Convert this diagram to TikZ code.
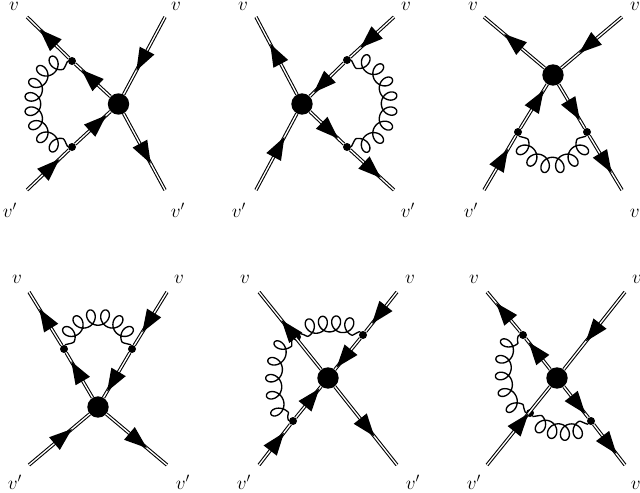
\documentclass[tikz,border=0pt]{standalone}
\usetikzlibrary{decorations.markings}
\pgfdeclaredecoration{curly}{s}{
  \state{s}[width=0.25pt]{
    \pgfmathsetmacro{\gd}{\pgfdecoratedcompleteddistance}
    \pgfmathsetmacro{\gl}{\pgfdecoratedpathlength}
    \pgfmathsetmacro{\gu}{(\gd-5)/(\gl-10)}
    \pgfmathsetmacro{\gph}{360*\gn*max(0,min(1,\gu))}
    \pgfmathsetmacro{\gt}{min(1,min(\gd,\gl-\gd)/5)}
    \pgfmathsetmacro{\gamp}{ifthenelse(\gt<1,-sin(90*\gt),-cos(\gph))}
    \pgfpathlineto{\pgfpoint{5.6pt*sin(\gph)}{\gs*6pt*\gamp}}
  }
  \state{final}{\pgfpathlineto{\pgfpointdecoratedpathlast}}
}
\tikzset{
  dbl/.style={draw=black,double=white,line width=0.8pt,double distance=1.0pt},
  ar/.style={postaction={decorate,decoration={markings,mark=at position #1 with {\fill[black] (8.75pt,0pt)--(-8.25pt,6.25pt)--(-8.25pt,-6.25pt)--cycle;}}}},
  blob/.style={circle,fill=black,inner sep=0pt,minimum size=16pt},
  vtx/.style={circle,fill=black,inner sep=0pt,minimum size=6pt},
  lab/.style={inner sep=0pt,font=\fontsize{14}{14}\selectfont},
  glu/.style 2 args={draw=black,line width=1pt,line join=round,/utils/exec={\def\gn{#1}\def\gs{#2}},decorate,decoration={curly}}
}
\begin{document}
\begin{tikzpicture}[x=0.75pt,y=-0.75pt]
\useasboundingbox (0,0) rectangle (640,493);
\clip (0,0) rectangle (640,493);
% diagram 1
\node[blob] (c1) at (118.5,104) {};
\node[vtx] (p1) at (72,61) {};
\node[vtx] (q1) at (72,147) {};
\coordinate (tl1) at (27,17); \coordinate (tr1) at (165,17);
\coordinate (bl1) at (27,190); \coordinate (br1) at (165,190);
\draw[dbl,ar=.5] (p1)--(tl1);
\draw[dbl,ar=.58] (c1)--(p1);
\draw[dbl,ar=.57] (bl1)--(q1);
\draw[dbl,ar=.64] (q1)--(c1);
\draw[dbl,ar=.56] (tr1)--(c1);
\draw[dbl,ar=.52] (c1)--(br1);
\draw[glu={8}{-1}] (p1) .. controls (21,61) and (21,147) .. (q1);
\node[lab] (l1a) at (14,6) {$v$};
\node[lab] (l1b) at (176,6) {$v$};
\node[lab] (l1c) at (10,210) {$v'$};
\node[lab] (l1d) at (178,210) {$v'$};
% diagram 2
\node[blob] (c2) at (302,104) {};
\node[vtx] (p2) at (347,60) {};
\node[vtx] (q2) at (347,147) {};
\coordinate (tl2) at (256,17); \coordinate (tr2) at (394,17);
\coordinate (bl2) at (256,190); \coordinate (br2) at (394,190);
\draw[dbl,ar=.52] (c2)--(tl2);
\draw[dbl,ar=.56] (bl2)--(c2);
\draw[dbl,ar=.57] (tr2)--(p2);
\draw[dbl,ar=.64] (p2)--(c2);
\draw[dbl,ar=.58] (c2)--(q2);
\draw[dbl,ar=.5] (q2)--(br2);
\draw[glu={8}{1}] (p2) .. controls (402,60) and (402,147) .. (q2);
\node[lab] (l2a) at (243,6) {$v$};
\node[lab] (l2b) at (406,6) {$v$};
\node[lab] (l2c) at (239,210) {$v'$};
\node[lab] (l2d) at (408,210) {$v'$};
% diagram 3
\node[blob] (c3) at (553,75) {};
\node[vtx] (p3) at (518,132) {};
\node[vtx] (q3) at (587,132) {};
\coordinate (tl3) at (484,17); \coordinate (tr3) at (622,17);
\coordinate (bl3) at (484,190); \coordinate (br3) at (622,190);
\draw[dbl,ar=.52] (c3)--(tl3);
\draw[dbl,ar=.56] (tr3)--(c3);
\draw[dbl,ar=.57] (bl3)--(p3);
\draw[dbl,ar=.64] (p3)--(c3);
\draw[dbl,ar=.58] (c3)--(q3);
\draw[dbl,ar=.5] (q3)--(br3);
\draw[glu={6}{-1}] (p3) .. controls (527,175) and (578,175) .. (q3);
\node[lab] (l3a) at (473,6) {$v$};
\node[lab] (l3b) at (635,6) {$v$};
\node[lab] (l3c) at (471,210) {$v'$};
\node[lab] (l3d) at (637,210) {$v'$};
% diagram 4
\node[blob] (c4) at (98,407) {};
\node[vtx] (p4) at (64,349) {};
\node[vtx] (q4) at (132,349) {};
\coordinate (tl4) at (29,292); \coordinate (tr4) at (167,292);
\coordinate (bl4) at (29,465); \coordinate (br4) at (167,465);
\draw[dbl,ar=.5] (p4)--(tl4);
\draw[dbl,ar=.58] (c4)--(p4);
\draw[dbl,ar=.57] (tr4)--(q4);
\draw[dbl,ar=.64] (q4)--(c4);
\draw[dbl,ar=.56] (bl4)--(c4);
\draw[dbl,ar=.52] (c4)--(br4);
\draw[glu={6}{1}] (p4) .. controls (73,308) and (123,308) .. (q4);
\node[lab] (l4a) at (17,279) {$v$};
\node[lab] (l4b) at (179,279) {$v$};
\node[lab] (l4c) at (15,482) {$v'$};
\node[lab] (l4d) at (183,482) {$v'$};
% diagram 5
\node[blob] (c5) at (328,378) {};
\node[vtx] (p5) at (297,337) {};
\node[vtx] (q5) at (363,335) {};
\node[vtx] (r5) at (293,421) {};
\coordinate (tl5) at (259,292); \coordinate (tr5) at (397,292);
\coordinate (bl5) at (259,465); \coordinate (br5) at (397,465);
\draw[dbl,ar=.52] (c5)--(tl5);
\draw[dbl,ar=.52] (c5)--(br5);
\draw[dbl,ar=.57] (tr5)--(q5);
\draw[dbl,ar=.64] (q5)--(c5);
\draw[dbl,ar=.57] (bl5)--(r5);
\draw[dbl,ar=.64] (r5)--(c5);
\draw[glu={4}{1}] (p5) .. controls (308,321) and (352,321) .. (q5);
\draw[glu={5}{-1}] (p5) .. controls (268,340) and (268,420) .. (r5);
\node[lab] (l5a) at (245,279) {$v$};
\node[lab] (l5b) at (410,279) {$v$};
\node[lab] (l5c) at (244,482) {$v'$};
\node[lab] (l5d) at (413,482) {$v'$};
% diagram 6
\node[blob] (c6) at (557,378) {};
\node[vtx] (p6) at (523,335) {};
\node[vtx] (q6) at (591,421) {};
\node[vtx] (r6) at (530,413) {};
\coordinate (tl6) at (487,292); \coordinate (tr6) at (625,292);
\coordinate (bl6) at (487,465); \coordinate (br6) at (625,465);
\draw[dbl,ar=.5] (p6)--(tl6);
\draw[dbl,ar=.58] (c6)--(p6);
\draw[dbl,ar=.52] (tr6)--(c6);
\draw[dbl,ar=.54] (bl6)--(c6);
\draw[dbl,ar=.58] (c6)--(q6);
\draw[dbl,ar=.5] (q6)--(br6);
\draw[glu={5}{-1}] (p6) .. controls (497,335) and (497,413) .. (r6);
\draw[glu={4}{-1}] (r6) .. controls (545,436) and (578,436) .. (q6);
\node[lab] (l6a) at (474,279) {$v$};
\node[lab] (l6b) at (637,279) {$v$};
\node[lab] (l6c) at (474,482) {$v'$};
\node[lab] (l6d) at (638,482) {$v'$};
\end{tikzpicture}
\end{document}
